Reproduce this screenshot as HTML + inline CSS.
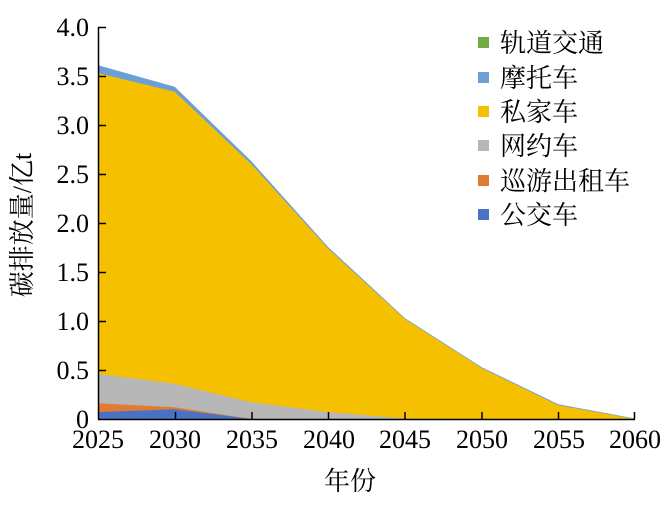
<!DOCTYPE html>
<html><head><meta charset="utf-8"><style>
body{margin:0;background:#fff;}
svg{display:block;}
text{font-family:"Liberation Serif","Noto Serif CJK SC",serif;fill:#000;}
</style></head><body>
<svg width="672" height="510" viewBox="0 0 672 510" xmlns="http://www.w3.org/2000/svg">
<polygon fill="#6a9fd8" points="98,65.2 174.7,86.8 251.4,161.3 328.1,247 404.9,318.1 481.6,367.1 558.3,404.3 635,418.5 635,419 98,419"/>
<polygon fill="#f5c000" points="98,73.1 174.7,91.7 251.4,164.2 328.1,248.5 404.9,319 481.6,368 558.3,405.3 635,419 98,419"/>
<polygon fill="#b7b7b7" points="98,373.9 174.7,383.7 251.4,402.3 328.1,412.1 404.9,418.5 481.6,419 98,419"/>
<polygon fill="#e27a34" points="98,403.3 174.7,407.2 251.4,419 98,419"/>
<polygon fill="#4a72c4" points="98,412.1 174.7,409.2 251.4,419 98,419"/>
<g stroke="#000" stroke-width="1.5" fill="none">
<line x1="98.5" y1="27" x2="98.5" y2="419.5"/>
<line x1="98" y1="419.5" x2="635" y2="419.5"/>
<line x1="98" y1="27.5" x2="106" y2="27.5"/>
<line x1="98" y1="76.5" x2="106" y2="76.5"/>
<line x1="98" y1="125.5" x2="106" y2="125.5"/>
<line x1="98" y1="174.5" x2="106" y2="174.5"/>
<line x1="98" y1="223.5" x2="106" y2="223.5"/>
<line x1="98" y1="272.5" x2="106" y2="272.5"/>
<line x1="98" y1="321.5" x2="106" y2="321.5"/>
<line x1="98" y1="370.5" x2="106" y2="370.5"/>
<line x1="175.5" y1="412" x2="175.5" y2="419"/>
<line x1="252" y1="412" x2="252" y2="419"/>
<line x1="328.5" y1="412" x2="328.5" y2="419"/>
<line x1="405" y1="412" x2="405" y2="419"/>
<line x1="482" y1="412" x2="482" y2="419"/>
<line x1="558.5" y1="412" x2="558.5" y2="419"/>
<line x1="634.5" y1="412" x2="634.5" y2="419"/>
</g>
<g font-size="26" text-anchor="end">
<text x="89" y="36">4.0</text>
<text x="89" y="85">3.5</text>
<text x="89" y="134">3.0</text>
<text x="89" y="183">2.5</text>
<text x="89" y="232">2.0</text>
<text x="89" y="281">1.5</text>
<text x="89" y="330">1.0</text>
<text x="89" y="379">0.5</text>
<text x="89" y="428">0</text>
</g>
<g font-size="26" text-anchor="middle">
<text x="98" y="448">2025</text>
<text x="175" y="448">2030</text>
<text x="252" y="448">2035</text>
<text x="329" y="448">2040</text>
<text x="405" y="448">2045</text>
<text x="482" y="448">2050</text>
<text x="559" y="448">2055</text>
<text x="635" y="448">2060</text>
<text x="350" y="490">年份</text>
</g>
<text font-size="26" text-anchor="middle" transform="translate(31,225) rotate(-90)">碳排放量/亿t</text>
<g>
<rect x="478" y="37" width="11" height="11" fill="#70ad47"/>
<rect x="478" y="72" width="11" height="11" fill="#6a9fd8"/>
<rect x="478" y="106" width="11" height="11" fill="#f5c000"/>
<rect x="478" y="140" width="11" height="11" fill="#b7b7b7"/>
<rect x="478" y="175" width="11" height="11" fill="#e27a34"/>
<rect x="478" y="209" width="11" height="11" fill="#4a72c4"/>
</g>
<g font-size="26">
<text x="500" y="52">轨道交通</text>
<text x="500" y="87">摩托车</text>
<text x="500" y="121">私家车</text>
<text x="500" y="155">网约车</text>
<text x="500" y="190">巡游出租车</text>
<text x="500" y="224">公交车</text>
</g>
</svg>
</body></html>
